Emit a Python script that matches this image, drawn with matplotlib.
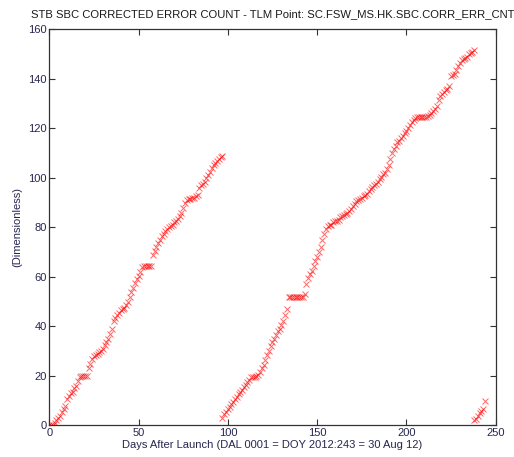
import numpy as np
import matplotlib
matplotlib.use("Agg")
import matplotlib.pyplot as plt

# ─── Data ─────────────────────────────────────────────────────────────────────
days_a = list(range(0, 98))
err_a = [0, 0, 0, 1, 2, 3, 4, 5.5, 6.5, 8,
         10.5, 12, 13, 13.5, 15, 16, 18, 19.5, 20, 20,
         20, 20, 23, 25, 27, 28, 28.5, 29, 29.5, 30,
         31, 32.5, 33.5, 35, 37, 39, 42, 43.5, 44.5, 45.5,
         46.5, 47, 47.5, 48.5, 50, 52, 54, 55.5, 57.5, 59,
         60.5, 62, 64, 64.5, 64.5, 64.5, 64.5, 64.5, 69, 70.5,
         72, 73.5, 75, 76.5, 77.5, 78.5, 79.5, 80, 80.5, 81,
         82, 82.5, 83.5, 84.5, 86, 88, 90, 91, 91.5, 91.5,
         92, 92, 92.5, 93, 96, 97, 97.5, 98.5, 100, 101,
         102.5, 104, 105, 106, 107, 107.5, 108.5, 109]

days_b = list(range(97, 239))
err_b = [3, 4.5, 5.5, 6.5, 7.5, 8.5, 9.5, 10.5, 11.5, 12.5,
         13.5, 14.5, 15.5, 16.5, 17.5, 18.5, 19.5, 19.5, 19.5, 20,
         20.5, 21.5, 23, 24.5, 26.5, 28.5, 30, 32, 33.5, 35,
         36.5, 38, 39, 40.5, 42, 44.5, 47, 52, 52, 52,
         52, 52, 52, 52, 52, 52, 53, 57, 59.5, 61,
         62.5, 64.5, 66.5, 68, 70, 72, 75, 77.5, 79.5, 80.5,
         81, 81, 82, 82.5, 82.5, 83, 84, 84.5, 85, 85.5,
         86, 86.5, 87.5, 88.5, 89.5, 90.5, 91, 91.5, 92, 92.5,
         93, 93.5, 94.5, 95.5, 96.5, 97, 97.5, 98.5, 99.5, 100.5,
         101.5, 102, 103.5, 105, 107.5, 110, 111.5, 113, 114.5, 115,
         116, 117, 118, 119, 120, 121.5, 122.5, 123.5, 124, 124.5,
         124.5, 124.5, 124.5, 124.5, 124.5, 125, 125.5, 126, 127, 128,
         129, 131.5, 133, 134, 134.5, 135.5, 136, 137, 141, 141.5,
         142, 143.5, 145, 146.5, 147.5, 148, 148.5, 149, 150, 150.5,
         151, 151.5]

days_c = [238, 239, 240, 241, 242, 243, 244]
err_c = [2, 2.5, 4, 5, 6, 6.5, 10]

TITLE = "STB SBC CORRECTED ERROR COUNT - TLM Point: SC.FSW_MS.HK.SBC.CORR_ERR_CNT"
XLABEL = "Days After Launch (DAL 0001 = DOY 2012:243 = 30 Aug 12)"
YLABEL = "(Dimensionless)"

# ─── Plot ─────────────────────────────────────────────────────────────────────
plt.rcParams["font.family"] = ["Liberation Sans", "DejaVu Sans"]
TXT = "#262650"

fig = plt.figure(figsize=(5.14, 4.57), dpi=100)
ax = fig.add_axes([0.0959, 0.0691, 0.8685, 0.8668])

for d, e in [(days_a, err_a), (days_b, err_b), (days_c, err_c)]:
    ax.plot(d, e, linestyle="none", marker="x", color="red",
            markersize=4, markeredgewidth=0.7, alpha=0.6)

ax.set_xlim(0, 250)
ax.set_ylim(0, 160)
ax.set_xticks(np.arange(0, 251, 50))
ax.set_yticks(np.arange(0, 161, 20))
ax.tick_params(direction="in", length=4, width=0.8, top=True, right=True,
               labelsize=8, labelcolor=TXT, color="#333333", pad=2)
for s in ax.spines.values():
    s.set_linewidth(0.9)
    s.set_color("#333333")

ax.set_title(TITLE, fontsize=8.1, color="#1a1a1a", pad=9)
ax.set_xlabel(XLABEL, fontsize=8, color=TXT, labelpad=1)
ax.set_ylabel(YLABEL, fontsize=8, color=TXT, labelpad=4)

fig.savefig("out.png", dpi=100)
